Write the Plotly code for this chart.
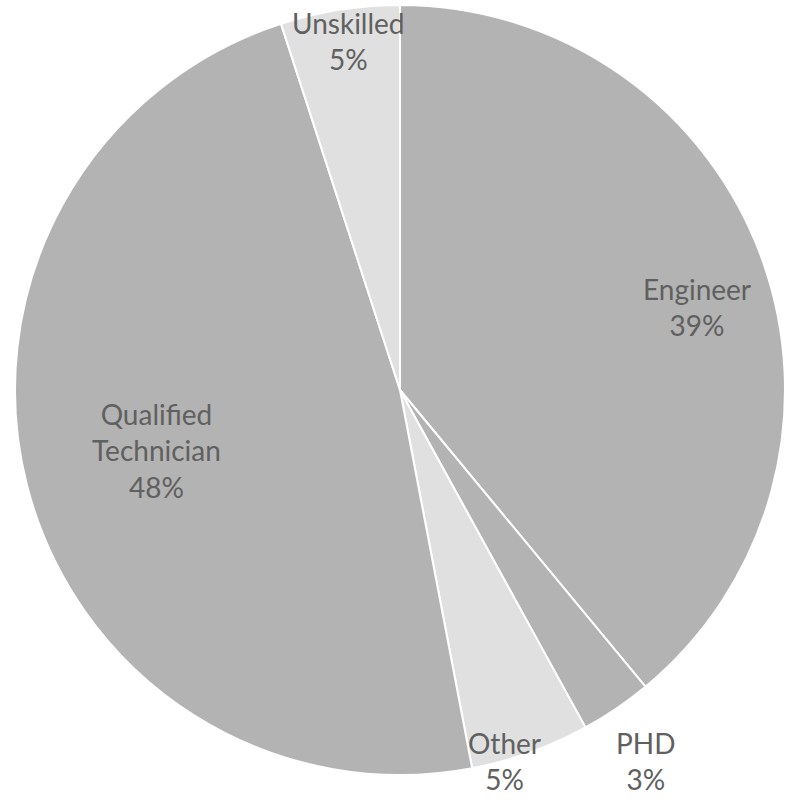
import plotly.graph_objects as go

# Workforce breakdown by qualification (percent of staff)
categories = ["Engineer", "PHD", "Other", "Qualified<br>Technician", "Unskilled"]
shares = [39, 3, 5, 48, 5]

# slice fills
colors = ["#b3b3b3", "#b3b3b3", "#e0e0e0", "#b3b3b3", "#e0e0e0"]
# text block centres in pixels (x from left, y from top)
label_px = [(697, 307), (646, 761), (504, 761), (156, 450), (348, 41)]

W, H = 785, 800
CX, CY, R = 400, 390, 385

fig = go.Figure(
    go.Pie(
        labels=categories,
        values=shares,
        sort=False,
        direction="clockwise",
        rotation=0,
        textinfo="none",
        hoverinfo="label+percent",
        marker=dict(colors=colors, line=dict(color="white", width=2)),
        domain=dict(x=[(CX - R) / W, min(1.0, (CX + R) / W)],
                    y=[(H - CY - R) / H, (H - CY + R) / H]),
        showlegend=False,
    )
)

total = sum(shares)
annotations = []
for name, v, (px, py) in zip(categories, shares, label_px):
    annotations.append(dict(
        x=px / W, y=1 - py / H, xref="paper", yref="paper",
        xanchor="center", yanchor="middle", showarrow=False,
        text=f"{name}<br>{round(100 * v / total)}%",
        font=dict(family="Lato", size=28, color="#606060"),
    ))

fig.update_layout(
    width=W, height=H,
    margin=dict(l=0, r=0, t=0, b=0),
    paper_bgcolor="white",
    plot_bgcolor="white",
    annotations=annotations,
)

fig.write_html("out.html")
